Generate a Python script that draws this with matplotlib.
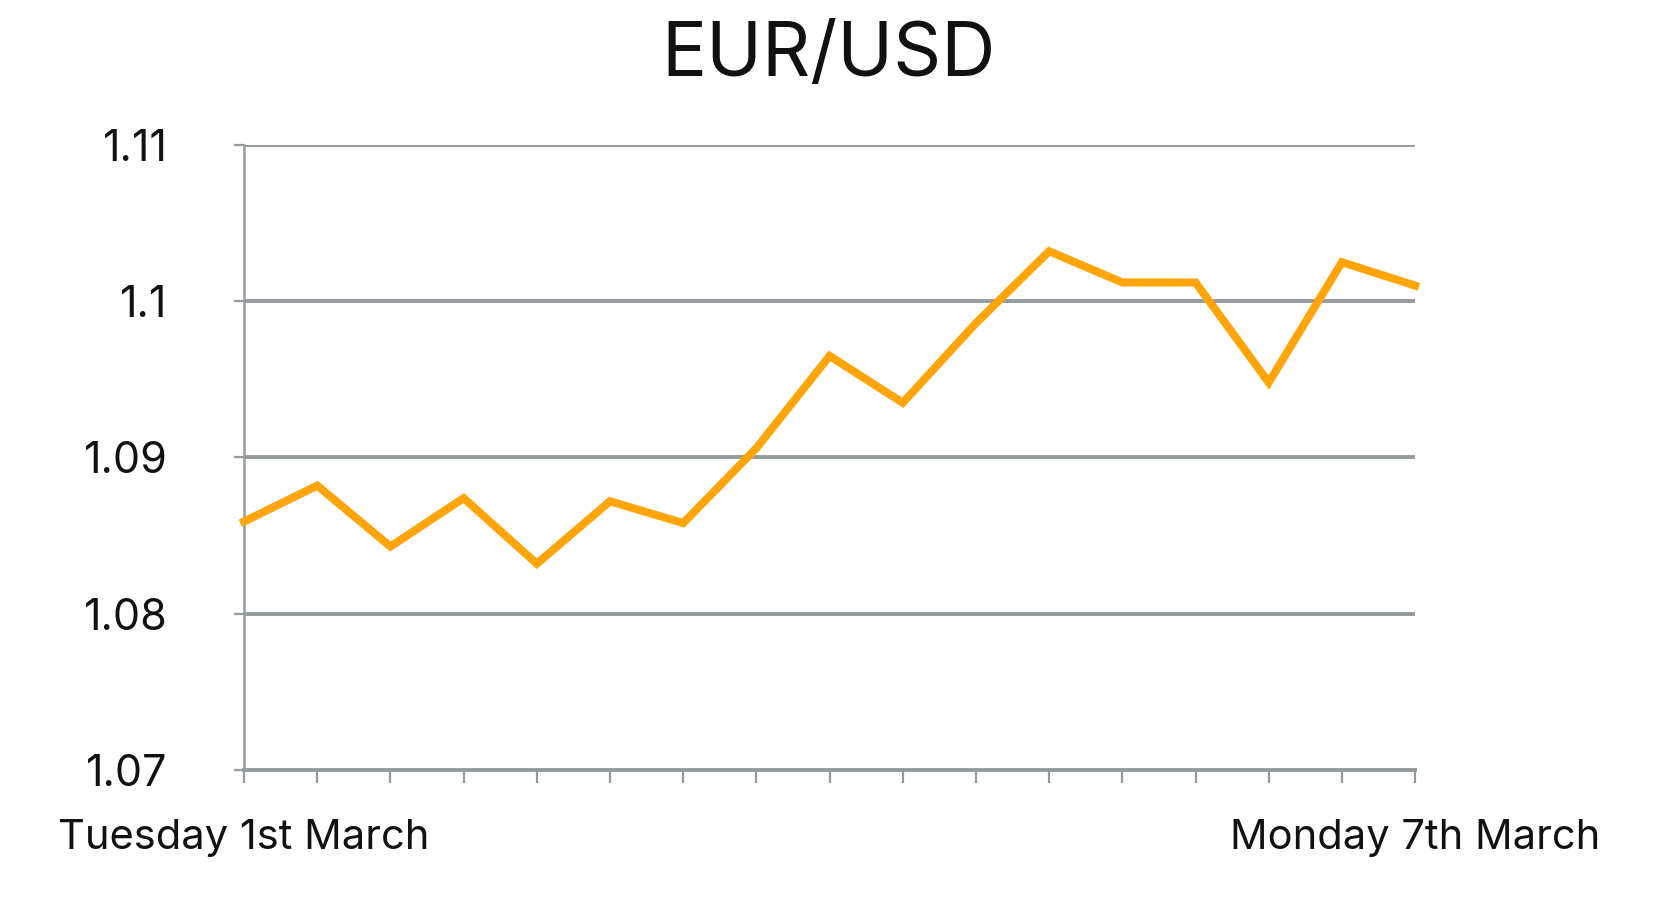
import matplotlib
matplotlib.use("Agg")
import matplotlib.pyplot as plt

plt.rcParams['font.family'] = ['Inter', 'DejaVu Sans']

# EUR/USD closes
rates = [1.0859, 1.0882, 1.0843, 1.0874, 1.0832, 1.0872, 1.0858, 1.0906, 1.0965,
         1.0935, 1.0986, 1.1032, 1.1012, 1.1012, 1.0948, 1.1025, 1.1010]
ytick_vals = [1.07, 1.08, 1.09, 1.1, 1.11]
ytick_labels = ["1.07", "1.08", "1.09", "1.1", "1.11"]
first_label = "Tuesday 1st March"
last_label = "Monday 7th March"

grey = "#959a9c"
orange = "#FFA50A"

fig = plt.figure(figsize=(16.58, 9.05), dpi=100)
ax = fig.add_axes([0.1472, 0.1492, 0.7063, 0.6906])

x = list(range(len(rates)))
ax.plot(x, rates, color=orange, linewidth=5.8, solid_joinstyle='miter', zorder=3, clip_on=False)

ax.set_xlim(0, len(rates) - 1)
ax.set_ylim(1.07, 1.11)

ax.set_yticks(ytick_vals)
ax.set_yticklabels(ytick_labels, fontsize=31)
xlabels = [""] * len(rates)
xlabels[0] = first_label
xlabels[-1] = last_label
ax.set_xticks(x)
ax.set_xticklabels(xlabels, fontsize=30)

for v in ytick_vals[1:]:
    ax.axhline(v, color=grey, linewidth=2.8, zorder=1)

for s in ["top", "right"]:
    ax.spines[s].set_visible(False)
ax.spines["left"].set_color(grey)
ax.spines["left"].set_linewidth(1.8)
ax.spines["bottom"].set_color(grey)
ax.spines["bottom"].set_linewidth(2.8)

ax.tick_params(axis='x', length=9, width=1.6, color=grey, pad=26, labelcolor="#111111")
ax.tick_params(axis='y', length=7, width=1.6, color=grey, pad=48, labelcolor="#111111")

fig.text(0.5, 0.938, "EUR/USD", ha='center', va='center', fontsize=54, color="#111111")

fig.savefig("out.png", dpi=100, facecolor="white")
